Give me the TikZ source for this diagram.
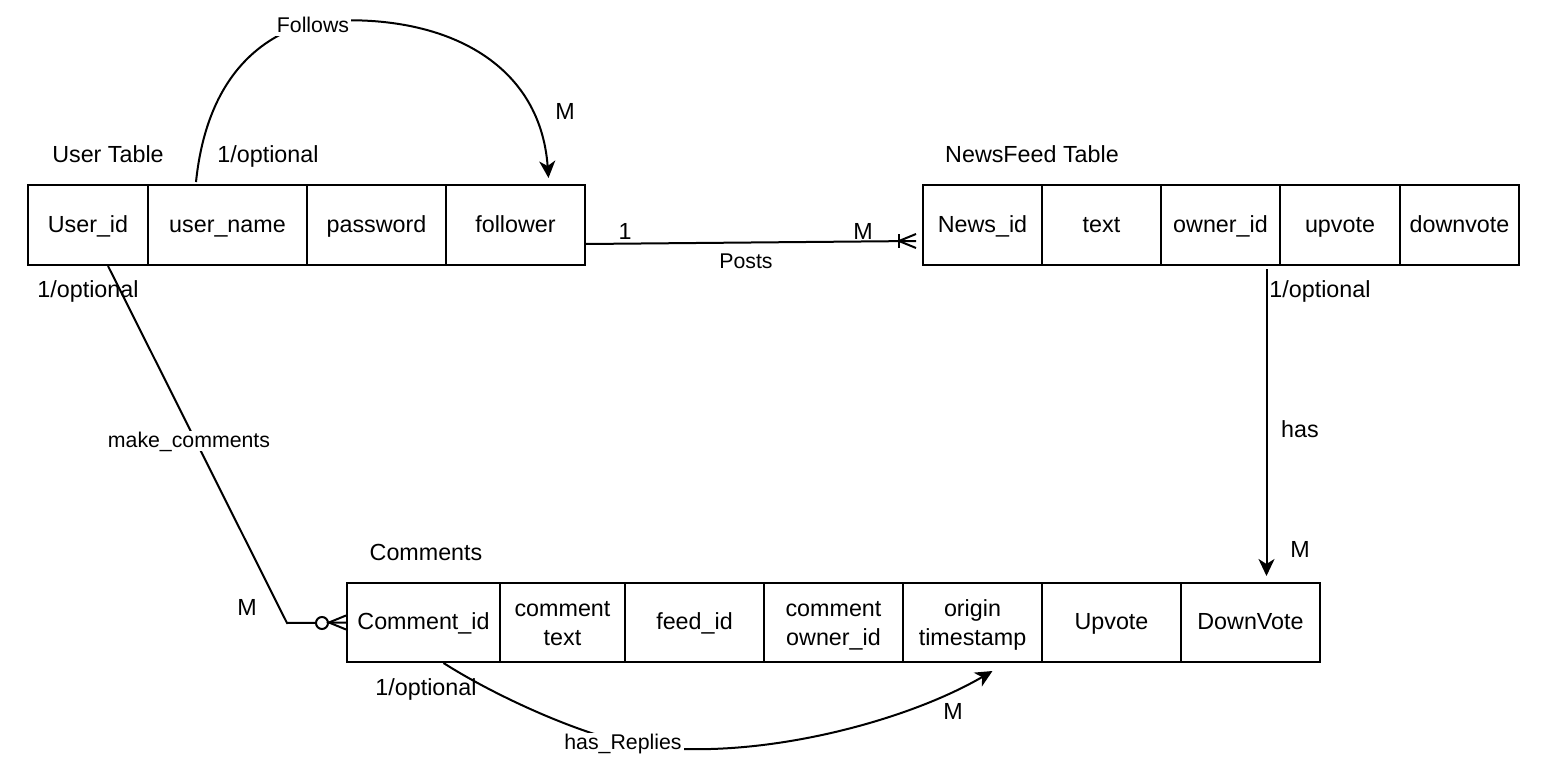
\documentclass[tikz,border=0pt]{standalone}
\usepackage{fontspec}
\setmainfont{Liberation Sans}
\usetikzlibrary{calc,arrows.meta}
\newcommand\cellbox[6]{\node[cell, minimum width={(#3-#2)*0.5pt}, minimum height={(#5-#4)*0.5pt}] (#1) at ({(#2+#3)/2},{(#4+#5)/2}) {#6};}
\newcommand\cellboxtwo[7]{\node[cell2, minimum width={(#3-#2)*0.5pt}, minimum height={(#5-#4)*0.5pt}] (#1) at ({(#2+#3)/2},{(#4+#5)/2}) {\rule{0pt}{0.72em}#6\\\raisebox{0pt}[\height][0pt]{#7}};}
\begin{document}
\begin{tikzpicture}[x=0.5pt,y=-0.5pt,
  cellbase/.style={draw, line width=1pt, inner sep=0pt, align=center, font=\fontsize{11.65}{14.5}\selectfont},
  cell/.style={cellbase, text height=0.72em, text depth=0pt},
  cell2/.style={cellbase},
  lbl/.style={inner sep=1pt, text height=0.72em, text depth=0pt, font=\fontsize{11.65}{14.5}\selectfont},
  elbl/.style={inner sep=1pt, fill=white, text height=0.72em, text depth=0.1em, font=\fontsize{10.65}{12.5}\selectfont},
  conn/.style={line width=1pt},
  arr/.style={conn, -{Stealth[length=8.5pt,width=8pt,inset=2.5pt]}}
]
\useasboundingbox (0,0) rectangle (1565,776);
% User table
\cellbox{uid}{28}{148}{185}{265}{User\_id}
\cellbox{un}{148}{307}{185}{265}{user\_name}
\cellbox{pw}{307}{446}{185}{265}{password}
\cellbox{fw}{446}{585}{185}{265}{follower}
% NewsFeed table
\cellbox{nid}{923}{1042}{185}{265}{News\_id}
\cellbox{ntx}{1042}{1161}{185}{265}{text}
\cellbox{oid}{1161}{1280}{185}{265}{owner\_id}
\cellbox{nup}{1280}{1400}{185}{265}{upvote}
\cellbox{ndown}{1400}{1519}{185}{265}{downvote}
% Comments table
\cellbox{cid}{347}{500}{583}{662}{Comment\_id}
\cellboxtwo{ctx}{500}{625}{583}{662}{comment}{text}
\cellbox{cfeed}{625}{764}{583}{662}{feed\_id}
\cellboxtwo{cow}{764}{903}{583}{662}{comment}{owner\_id}
\cellboxtwo{ot}{903}{1042}{583}{662}{origin}{timestamp}
\cellbox{cup}{1042}{1181}{583}{662}{Upvote}
\cellbox{dv}{1181}{1320}{583}{662}{DownVote}
% titles
\node[lbl] (tuser) at (108,155) {User Table};
\node[lbl] (tnews) at (1032,155) {NewsFeed Table};
\node[lbl] (tcom) at (426,553) {Comments};
% Follows
\draw[arr] ($(un.north west)+(49,-2)$) .. controls (205,95) and (245,40) .. (313,22) .. controls (440,10) and (540,60) .. ($(fw.north)+(33,-6)$);
\node[elbl] (follows) at (313,26) {Follows};
\node[lbl] (c1) at (268,155) {1/optional};
\node[lbl] (c2) at (565,112) {M};
% Posts
\draw[conn] ($(fw.east)+(0,19)$) -- ($(nid.west)+(-6,16)$);
\draw[conn] ($(nid.west)+(-23,9)$) -- ($(nid.west)+(-23,23)$);
\draw[conn] ($(nid.west)+(-6,9)$) -- ($(nid.west)+(-23,16)$) -- ($(nid.west)+(-6,23)$);
\node[elbl, fill=none] (posts) at (746,262) {Posts};
\node[lbl] (c3) at (625,232) {1};
\node[lbl] (c4) at (863,232) {M};
% make_comments
\draw[conn] ($(uid.south)+(20,0)$) -- (287,623) -- (cid.west);
\draw[conn, fill=white] (322,623) circle[radius=3pt];
\draw[conn] ($(cid.west)+(0,-7)$) -- ($(cid.west)+(-17,0)$) -- ($(cid.west)+(0,7)$);
\node[elbl] (mc) at (189,441) {make\_comments};
\node[lbl] (c5) at (88,290) {1/optional};
\node[lbl] (c6) at (247,608) {M};
% has
\draw[arr] ($(oid.south)+(46,3)$) -- ($(dv.north)+(16,-6)$);
\node[lbl] (has) at (1300,430) {has};
\node[lbl] (c7) at (1320,290) {1/optional};
\node[lbl] (c8) at (1300,550) {M};
% has_Replies
\node[lbl] (c9) at (426,688) {1/optional};
\draw[arr] ($(cid.south)+(20,0)$) .. controls (492,694) and (572,731) .. (627,743) .. controls (740,765) and (900,725) .. ($(ot.south)+(20,8)$);
\node[elbl] (hr) at (623,743) {has\_Replies};
\node[lbl] (c10) at (953,712) {M};
\end{tikzpicture}
\end{document}
